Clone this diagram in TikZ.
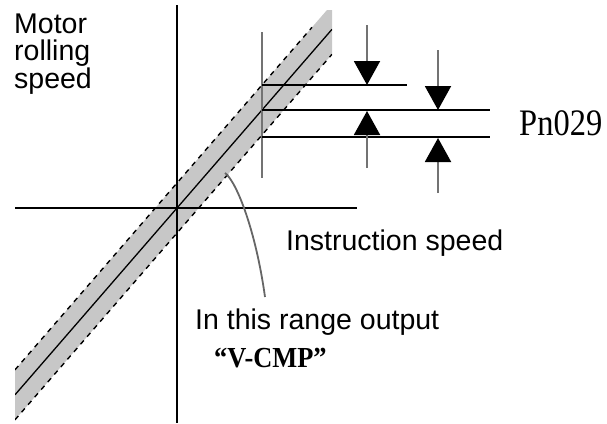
\documentclass[tikz,border=0pt]{standalone}
\usepackage{fontspec}
\setmainfont{Liberation Sans}
\newfontfamily\codefont{Liberation Serif}
\usetikzlibrary{arrows.meta}

\tikzset{
  axis/.style={line width=2pt},
  edgeline/.style={line width=1.4pt, dash pattern=on 5pt off 5pt},
  level/.style={line width=2pt},
  guide/.style={line width=2pt, black!55},
  tipline/.style={line width=2pt, black!55, -{Triangle[width=26pt,length=24pt,color=black]}},
  lbl/.style={anchor=base west, inner sep=0pt, font=\fontsize{28.5}{27.5}\selectfont},
}
\newcommand{\codetxt}[3]{\scalebox{1}[#2]{\fontsize{#1}{#1}\codefont #3}}

\begin{document}
\begin{tikzpicture}[x=1pt,y=-1pt]
\useasboundingbox (0,0) rectangle (607,423);
% axes
\coordinate (O) at (177,208);
\coordinate (ytop) at (177,5);
\coordinate (ybot) at (177,423);
\coordinate (xl) at (15,208);
\coordinate (xr) at (357,208);
% band
\begin{scope}
\clip (15,10) rectangle (332,423);
\fill[black!22] (15,369.8) -- (327,10) -- (332,4.3) -- (332,54.3) -- (15,419.8) -- cycle;
\draw[line width=1.3pt] (15,394.8) -- (332,29.3);
\draw[edgeline] (15,369.8) -- (312,27.3);
\draw[edgeline] (15,419.8) -- (332,54.3);
\end{scope}
\draw[axis] (ytop) -- (ybot);
\draw[line width=1.5pt] (xl) -- (xr);
% levels of Pn029
\coordinate (g1) at (262,32);
\coordinate (g2) at (262,178);
\draw[guide] (g1) -- (g2);
\draw[level] (262,85) -- (407,85);
\draw[level] (262,110) -- (490,110);
\draw[level] (262,137) -- (490,137);
\draw[tipline] (367,25) -- (367,85);
\draw[tipline] (367,168) -- (367,111);
\draw[tipline] (438,50) -- (438,110);
\draw[tipline] (438,193) -- (438,138);
% labels
\node[lbl, align=left] (ylab) at (14,88) {Motor\\rolling\\speed};
\node[lbl] (xlab) at (286,250) {Instruction speed};
\node[lbl] (rng) at (195,329) {In this range output};
\node[lbl] (vcmp) at (214,367) {\codetxt{26.4}{1.1}{\bfseries “V-CMP”}};
\node[lbl] (pn) at (519,135) {\codetxt{32.5}{1.15}{Pn029}};
\coordinate (c0) at (225,173);
\coordinate (c1) at (265,297);
\draw[line width=1.8pt, black!60] (c0) .. controls (237,182) and (256,232) .. (c1);
\end{tikzpicture}
\end{document}
